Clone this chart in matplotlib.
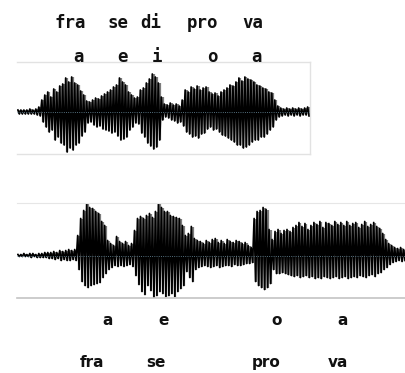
import numpy as np
import matplotlib
matplotlib.use("Agg")
import matplotlib.pyplot as plt

# ---- data: waveform envelope peaks (upper = positive peaks, lower = magnitude of negative peaks)
top_upper = [2, 2, 2, 2, 3, 2, 3, 5, 12, 17,
             20, 15, 23, 20, 26, 28, 34, 30, 35, 29,
             27, 21, 17, 11, 10, 12, 14, 13, 16, 18,
             20, 22, 25, 27, 34, 30, 27, 20, 17, 14,
             15, 22, 24, 29, 33, 38, 35, 29, 15, 8,
             7, 9, 7, 8, 6, 12, 22, 20, 25, 23,
             26, 22, 24, 25, 20, 18, 19, 16, 20, 22,
             24, 27, 26, 30, 34, 31, 35, 33, 32, 30,
             27, 26, 24, 23, 20, 19, 12, 6, 4, 3,
             4, 3, 4, 3, 4, 3, 4, 5]
top_lower = [2, 2, 2, 2, 2, 2, 3, 4, 10, 15,
             20, 18, 28, 25, 31, 33, 40, 36, 38, 33,
             31, 24, 20, 11, 10, 13, 15, 14, 17, 18,
             19, 21, 20, 24, 28, 27, 25, 18, 15, 11,
             12, 21, 25, 31, 34, 37, 35, 28, 8, 5,
             6, 8, 9, 11, 10, 14, 20, 22, 25, 24,
             26, 22, 21, 17, 15, 18, 17, 20, 23, 24,
             26, 28, 30, 33, 33, 36, 35, 33, 30, 28,
             28, 25, 25, 22, 18, 15, 8, 5, 4, 3,
             4, 3, 4, 3, 4, 3, 3, 4]

bot_upper = [1, 1, 2, 1, 2, 2, 1, 2, 2, 3,
             3, 3, 4, 3, 5, 4, 5, 6, 5, 6,
             20, 37, 45, 52, 48, 47, 44, 42, 34, 30,
             15, 12, 10, 19, 14, 12, 14, 10, 12, 25,
             37, 39, 37, 40, 42, 38, 44, 52, 48, 44,
             44, 40, 39, 38, 37, 30, 20, 22, 29, 17,
             15, 14, 12, 15, 13, 16, 17, 13, 15, 12,
             16, 14, 13, 15, 14, 12, 13, 10, 8, 37,
             44, 45, 48, 46, 26, 16, 24, 26, 22, 25,
             26, 24, 28, 30, 33, 29, 32, 26, 30, 33,
             31, 34, 28, 33, 32, 30, 34, 31, 33, 30,
             34, 30, 32, 33, 28, 31, 34, 29, 31, 33,
             29, 27, 22, 16, 12, 10, 8, 7, 8, 6]
bot_lower = [1, 1, 1, 1, 2, 1, 2, 2, 2, 2,
             3, 3, 4, 3, 5, 4, 5, 5, 4, 5,
             14, 26, 30, 32, 30, 29, 28, 27, 22, 18,
             14, 12, 10, 11, 10, 11, 10, 9, 11, 20,
             29, 36, 39, 30, 35, 42, 40, 36, 38, 41,
             40, 38, 41, 36, 33, 30, 16, 22, 26, 14,
             12, 11, 10, 11, 12, 11, 10, 12, 11, 10,
             10, 11, 9, 10, 10, 9, 8, 8, 7, 26,
             30, 32, 34, 32, 28, 14, 18, 18, 17, 18,
             19, 20, 21, 20, 22, 21, 20, 22, 21, 23,
             22, 23, 21, 22, 23, 22, 21, 23, 22, 21,
             23, 22, 21, 22, 20, 21, 22, 20, 19, 21,
             18, 17, 14, 12, 9, 7, 6, 5, 6, 5]

# syllable / vowel labels
top_syll = ["fra", "se", "di", "pro", "va"]
top_vowel = ["a", "e", "i", "o", "a"]
bot_syll = ["fra", "se", "pro", "va"]
bot_vowel = ["a", "e", "o", "a"]

W, H = 406, 373
fig = plt.figure(figsize=(W / 100, H / 100), dpi=100)


def px_axes(x0, y0, x1, y1):
    return fig.add_axes([x0 / W, 1 - y1 / H, (x1 - x0) / W, (y1 - y0) / H])


def draw_wave(ax, upper, lower):
    up = np.asarray(upper, float)
    lo = -np.asarray(lower, float)
    n = len(up)
    t = np.arange(n)
    ax.vlines(t + 0.5, lo, up, color="#7c7c7c", lw=1.6, zorder=1)
    xs = np.empty(2 * n)
    ys = np.empty(2 * n)
    xs[0::2] = t
    xs[1::2] = t + 0.5
    ys[0::2] = up
    ys[1::2] = lo
    ax.plot(xs, ys, color="black", lw=1.25, zorder=2)
    ax.axhline(0, color="#6f93a6", lw=0.6, ls=":", zorder=3)
    ax.set_xlim(-0.3, n - 0.2)
    ax.set_xticks([])
    ax.set_yticks([])


# top panel
ax1 = px_axes(17, 62, 310, 154)
draw_wave(ax1, top_upper, top_lower)
ax1.set_ylim(-42, 50)
for s in ["top", "right", "bottom"]:
    ax1.spines[s].set_color("#e2e2e2")
    ax1.spines[s].set_linewidth(1.0)
ax1.spines["left"].set_visible(False)

# bottom panel
ax2 = px_axes(17, 203, 406, 298)
draw_wave(ax2, bot_upper, bot_lower)
ax2.set_ylim(-42.5, 52.5)
ax2.spines["top"].set_color("#e6e6e6")
ax2.spines["bottom"].set_color("#c4c4c4")
ax2.spines["bottom"].set_linewidth(1.2)
ax2.spines["left"].set_visible(False)
ax2.spines["right"].set_visible(False)

mono = dict(family="DejaVu Sans Mono", fontweight="bold", fontsize=12.5,
            ha="center", va="baseline", color="#111111")
sans = dict(family="DejaVu Sans", fontweight="bold", fontsize=11,
            ha="center", va="baseline", color="#111111")

for s, x in zip(top_syll, [70, 118, 151, 203, 253]):
    fig.text(x / W, 1 - 28 / H, s, **mono)
for s, x in zip(top_vowel, [79, 123, 157, 212, 257]):
    fig.text(x / W, 1 - 62 / H, s, **mono)
for s, x in zip(bot_vowel, [108, 164, 277, 343]):
    fig.text(x / W, 1 - 325 / H, s, **sans)
for s, x in zip(bot_syll, [92, 156, 266, 338]):
    fig.text(x / W, 1 - 367 / H, s, **sans)

fig.savefig("out.png", dpi=100)
